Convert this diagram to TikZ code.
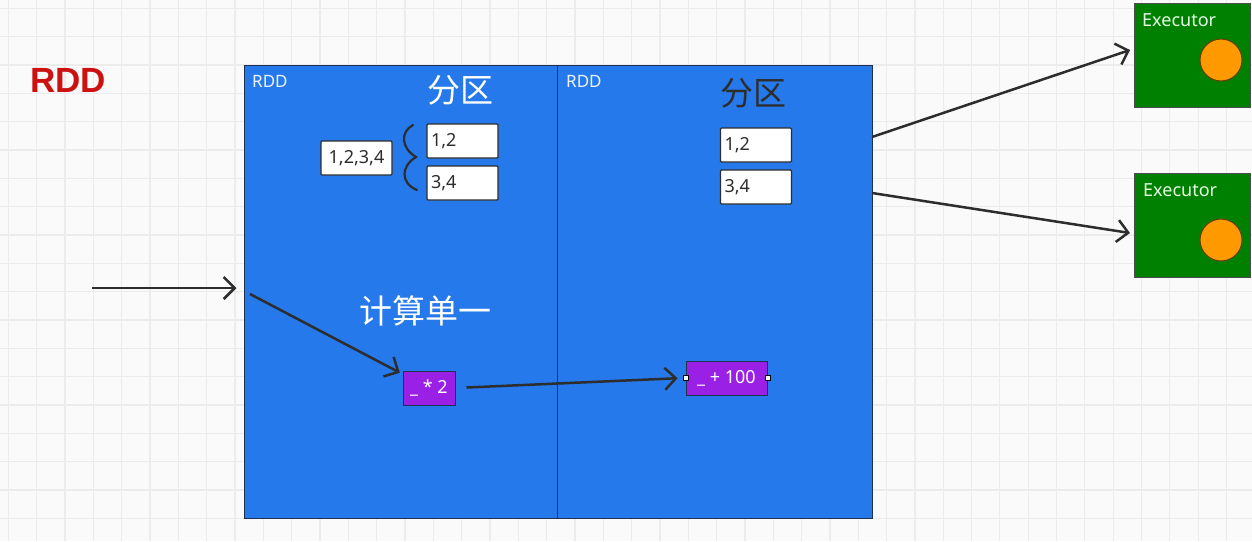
\documentclass[tikz,border=0pt]{standalone}
\usepackage{fontspec}
\setmainfont{Noto Sans}
\newfontfamily\cjk{Noto Sans CJK SC}
\newfontfamily\titlefont{Liberation Sans}
\usepackage{tikz}
\usetikzlibrary{arrows.meta, positioning, calc}

\definecolor{rddblue}{RGB}{38,121,234}
\definecolor{rddedge}{RGB}{30,50,80}
\definecolor{execgreen}{RGB}{0,128,0}
\definecolor{coreorange}{RGB}{255,153,0}
\definecolor{opviolet}{RGB}{153,32,228}
\definecolor{titlered}{RGB}{204,17,17}
\definecolor{gridgray}{RGB}{236,236,236}
\definecolor{inkgray}{RGB}{45,45,45}

\newcommand{\px}[1]{\fontsize{#1}{#1}\selectfont}

\tikzset{
  rddbox/.style={draw=rddedge, line width=1pt, fill=rddblue, minimum height=453pt, inner sep=0pt},
  partbox/.style={draw=inkgray, line width=1.2pt, fill=white, rounded corners=1pt,
    minimum width=71pt, minimum height=34pt, text width=63pt, align=left, inner xsep=4pt,
    font=\px{18}, text=inkgray},
  opbox/.style={draw=rddedge, line width=1pt, fill=opviolet, minimum height=34pt,
    font=\px{18}, text=white, inner xsep=4pt},
  execbox/.style={draw=black!70, line width=1pt, fill=execgreen, minimum width=116pt,
    minimum height=104pt, inner sep=0pt},
  core/.style={circle, draw=black!60!coreorange, line width=1pt, fill=coreorange,
    minimum size=42pt, inner sep=0pt},
  handle/.style={draw=black, fill=white, line width=0.8pt, minimum size=5pt, inner sep=0pt},
  flow/.style={draw=inkgray, line width=2.5pt, -{Straight Barb[length=11pt, width=22pt, line width=2.5pt]}},
}

\begin{document}
\begin{tikzpicture}[x=1pt, y=-1pt]
  \useasboundingbox (0,0) rectangle (1252,541);

  % Grid paper
  \fill[white!98!black] (0,0) rectangle (1252,541);
  \foreach \i in {0,...,44} {
    \draw[gridgray, line width=1.2pt] (8.33+28.33*\i,0) -- (8.33+28.33*\i,541);
  }
  \foreach \i in {0,...,19} {
    \draw[gridgray, line width=1.2pt] (0,8.33+28.33*\i) -- (1252,8.33+28.33*\i);
  }

  % Title
  \node[text=titlered, font=\titlefont\px{35}\bfseries] (title) at (68,80) {RDD};

  % The two RDDs
  \node[rddbox, minimum width=313pt] (leftrdd) at (400.5,291.5) {};
  \node[rddbox, minimum width=315pt] (rightrdd) at (714.5,291.5) {};
  \node[anchor=north west, text=white!92!rddblue, font=\px{17}, inner sep=0pt] (leftname) at (252,75) {RDD};
  \node[anchor=north west, text=white!92!rddblue, font=\px{17}, inner sep=0pt] (rightname) at (566,75) {RDD};

  % Partitions
  \node[text=white, font=\cjk\px{33}] (leftpart) at (460,90) {分区};
  \node[text=inkgray, font=\cjk\px{33}] (rightpart) at (753,93) {分区};
  \node[partbox, align=center, inner xsep=4pt] (whole) at (356.5,158) {1,2,3,4};
  \node[partbox] (lp1) at (462.5,141) {1,2};
  \node[partbox] (lp2) at (462.5,183) {3,4};
  \node[partbox] (rp1) at (756,145) {1,2};
  \node[partbox] (rp2) at (756,187) {3,4};

  % Brace between whole and parts
  \draw[inkgray, line width=2.2pt, line cap=round]
    (413,125) .. controls (400,132) and (401,148) .. (416,157)
    .. controls (401,166) and (400,183) .. (417,190);

  % Computation
  \node[text=white, font=\cjk\px{33}] (compute) at (425,311) {计算单一};
  \node[opbox, minimum width=52pt] (mul) at (429,388) {\_ * 2};
  \node[opbox, minimum width=81pt] (add) at (726.5,378) {\_\ + 100};
  \node[handle] (addin) at (add.west) {};
  \node[handle] (addout) at (add.east) {};

  % Executors
  \node[execbox] (exec1) at (1192,55) {};
  \node[execbox] (exec2) at (1192,225.5) {};
  \node[anchor=north west, text=white!90!green, font=\px{18}, inner sep=0pt] (exec1name) at (1142,13) {Executor};
  \node[anchor=north west, text=white!90!green, font=\px{18}, inner sep=0pt] (exec2name) at (1143,183) {Executor};
  \node[core] (core1) at (1221,60) {};
  \node[core] (core2) at (1221,240) {};

  % Connectors
  \coordinate (src) at (92,288);
  \coordinate (split) at (250,294);
  \coordinate (out1) at (872,137);
  \coordinate (out2) at (872,193);
  \coordinate (in1) at (1130,50);
  \coordinate (in2) at (1130,233);
  \draw[flow, shorten >=7pt] (src) -- (leftrdd.west |- src);
  \draw[flow, shorten >=3pt] (split) -- (mul);
  \draw[flow, shorten <=11pt, shorten >=5pt] (mul.east) -- (addin.west);
  \draw[flow] (out1) -- (in1);
  \draw[flow] (out2) -- (in2);
\end{tikzpicture}
\end{document}
